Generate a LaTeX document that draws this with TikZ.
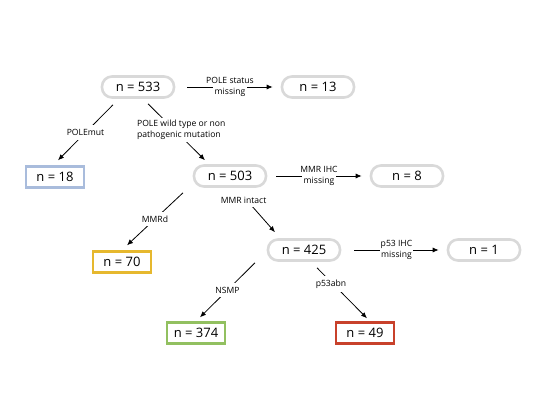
\documentclass[tikz,border=0pt]{standalone}
\usepackage{fontspec}
\setmainfont{Open Sans}
\usepackage{tikz}
\usetikzlibrary{arrows.meta}
\definecolor{boxgrey}{HTML}{D9D9D9}
\definecolor{poleblue}{HTML}{A9BCDC}
\definecolor{mmryellow}{HTML}{E6B82E}
\definecolor{nsmpgreen}{HTML}{92C060}
\definecolor{pfiftyred}{HTML}{C8412B}

\begin{document}
\begin{tikzpicture}[x=1pt, y=-1pt,
  count/.style={draw=boxgrey, line width=2.6pt, rounded corners=10pt,
    minimum width=72pt, minimum height=21pt, font=\fontsize{13}{15}\selectfont},
  group/.style={draw=#1, line width=2.4pt,
    minimum width=58pt, minimum height=21pt, font=\fontsize{13}{15}\selectfont},
  flow/.style={-{Latex[length=6pt,width=5pt]}, line width=0.8pt},
  why/.style={fill=white, inner sep=4pt, align=center,
    font=\fontsize{8.6}{11.5}\selectfont},
  side/.style={fill=white, inner xsep=1.5pt, inner ysep=1pt, align=center,
    font=\fontsize{8.6}{11.5}\selectfont}]
\useasboundingbox (0,0) rectangle (550,412);
%%% cohort %%%

      \node[count] (all) at (138,87) {n = 533};
      \node[count] (polemiss) at (318,87) {n = 13};
      %% POLE step
      \node[group=poleblue] (polemut) at (55,177) {n = 18};
      \node[count] (polewt) at (230,176) {n = 503};
      \node[count] (mmrmiss) at (407,176) {n = 8};
      %% MMR step
      \node[group=mmryellow] (mmrd) at (122,262) {n = 70};
      \node[count] (mmrok) at (304,250) {n = 425};
      \node[count] (p53miss) at (484,250) {n = 1};
      %% p53 step
      \node[group=nsmpgreen] (nsmp) at (196,333) {n = 374};
      \node[group=pfiftyred] (p53abn) at (365,333) {n = 49};

      %% arrows
      \draw[flow] ([xshift=12pt]all.east) -- node[side] {\makebox[0pt]{POLE status}\\missing} ([xshift=-8pt]polemiss.west);
      \draw[flow] ([xshift=-25pt,yshift=-6pt]all.south) -- node[why] {POLEmut} ([xshift=3pt,yshift=5pt]polemut.north);
      \draw[flow] ([xshift=10pt,yshift=-5pt]all.south) -- node[why, inner sep=2pt, align=left, pos=0.46, xshift=7pt] {POLE wild type or non\\pathogenic mutation} ([xshift=-25pt,yshift=4pt]polewt.north);
      \draw[flow] ([xshift=9pt]polewt.east) -- node[side] {\makebox[0pt]{MMR IHC}\\missing} ([xshift=-8pt]mmrmiss.west);
      \draw[flow] ([xshift=-47pt,yshift=-5pt]polewt.south) -- node[why] {MMRd} ([xshift=5pt,yshift=5pt]mmrd.north);
      \draw[flow] ([xshift=12pt,yshift=-7pt]polewt.south) -- node[why, pos=0.14, xshift=-3pt] {MMR intact} ([xshift=-29pt,yshift=6pt]mmrok.north);
      \draw[flow] ([xshift=13pt]mmrok.east) -- node[side] {\makebox[0pt]{p53 IHC}\\missing} ([xshift=-8pt]p53miss.west);
      \draw[flow] ([xshift=-49pt,yshift=-1pt]mmrok.south) -- node[why] {NSMP} ([xshift=4pt,yshift=4pt]nsmp.north);
      \draw[flow] ([xshift=13pt,yshift=-6pt]mmrok.south) -- node[why, pos=0.32, xshift=-2pt] {p53abn} ([xshift=2pt,yshift=3pt]p53abn.north);

\end{tikzpicture}
\end{document}
